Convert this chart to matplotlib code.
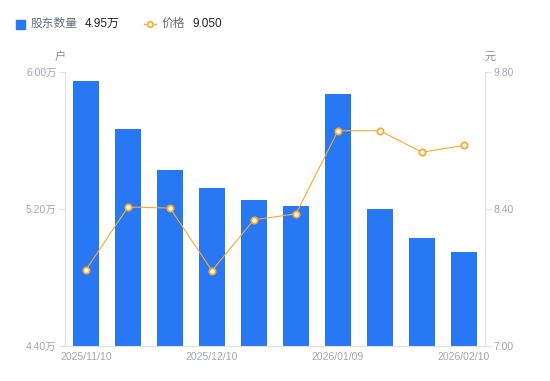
import matplotlib.pyplot as plt
import numpy as np

plt.rcParams['font.family'] = ['Liberation Sans', 'Noto Sans CJK SC', 'DejaVu Sans']

# Data
dates = ['2025/11/10', '2025/11/20', '2025/11/30', '2025/12/10', '2025/12/20',
         '2025/12/31', '2026/01/09', '2026/01/20', '2026/01/31', '2026/02/10']
holders = [5.95, 5.67, 5.43, 5.32, 5.25, 5.22, 5.87, 5.20, 5.03, 4.95]  # 万户
price = [7.78, 8.42, 8.41, 7.77, 8.29, 8.35, 9.20, 9.20, 8.98, 9.05]

bar_color = '#2878f5'
line_color = '#f7ab2e'
tick_color = '#a3a6b1'
axis_color = '#e0e2e8'

fig = plt.figure(figsize=(5.5, 3.81), dpi=100)
ax = fig.add_axes([65/550, 1 - 346/381, 420/550, 274/381])
ax2 = ax.twinx()

x = np.arange(len(dates))
ax.bar(x, holders, width=0.6, color=bar_color, zorder=2)
ax.set_xlim(-0.5, len(dates) - 0.5)
ax.set_ylim(4.40, 6.00)
ax.set_yticks([4.40, 5.20, 6.00])
ax.set_yticklabels(['4.40万', '5.20万', '6.00万'])

ax2.plot(x, price, color=line_color, lw=0.8, marker='o', ms=4.5,
         mfc='white', mec=line_color, mew=1.3, zorder=3)
ax2.set_ylim(7.00, 9.80)
ax2.set_yticks([7.00, 8.40, 9.80])
ax2.set_yticklabels(['7.00', '8.40', '9.80'])

ax.set_xticks(x[::3])
ax.set_xticklabels([dates[i] for i in range(0, len(dates), 3)])

for a in (ax, ax2):
    for s in a.spines.values():
        s.set_visible(False)
    a.tick_params(colors=tick_color, labelsize=7.5, length=4, width=0.8)
    a.tick_params(axis='y', color=axis_color, pad=2)
ax.tick_params(axis='x', length=0, pad=4)
ax.spines['left'].set_visible(True)
ax.spines['left'].set_color(axis_color)
ax.spines['bottom'].set_visible(True)
ax.spines['bottom'].set_color(axis_color)
ax2.spines['right'].set_visible(True)
ax2.spines['right'].set_color(axis_color)

# unit labels
fig.text(60/550, 1 - 57/381, '户', color='#888b95', fontsize=8, ha='center', va='center')
fig.text(490/550, 1 - 57/381, '元', color='#888b95', fontsize=8, ha='center', va='center')

# legend header
ly = 1 - 24/381
fig.patches.append(plt.Rectangle((16/550, 1 - 29/381), 9/550, 9/381, color=bar_color,
                                 transform=fig.transFigure, figure=fig))
fig.text(31/550, ly, '股东数量', color='#6b6e78', fontsize=8.5, va='center')
fig.text(85/550, ly, '4.95万', color='#222222', fontsize=8.5, va='center')
fig.lines.append(plt.Line2D([144/550, 156/550], [ly, ly], color=line_color, lw=1,
                            transform=fig.transFigure, figure=fig))
fig.lines.append(plt.Line2D([150/550], [ly], color=line_color, marker='o', ms=4,
                            mfc='white', mec=line_color, mew=1.2,
                            transform=fig.transFigure, figure=fig))
fig.text(162/550, ly, '价格', color='#6b6e78', fontsize=8.5, va='center')
fig.text(192/550, ly, '9.050', color='#222222', fontsize=8.5, va='center')

fig.savefig('out.png', dpi=100)
